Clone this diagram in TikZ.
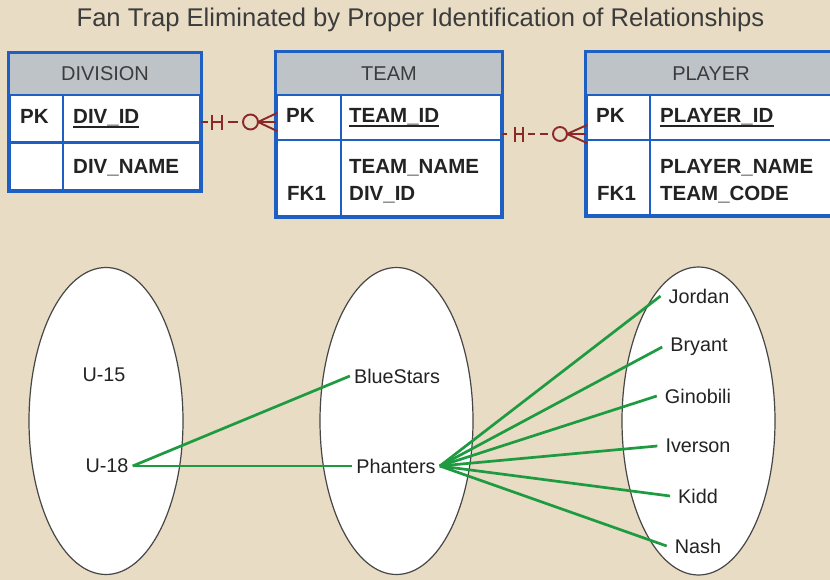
\documentclass[tikz,border=0pt]{standalone}
\usepackage{fontspec}
\setmainfont{Liberation Sans}
\usetikzlibrary{shapes.geometric}
\definecolor{bg}{RGB}{232,220,196}
\definecolor{hdr}{RGB}{190,195,199}
\definecolor{hdrtxt}{RGB}{60,60,60}
\definecolor{tblue}{RGB}{30,95,195}
\definecolor{rel}{RGB}{140,40,40}
\definecolor{grn}{RGB}{30,155,65}
\definecolor{txt}{RGB}{35,35,35}
\definecolor{ellline}{RGB}{70,70,70}
\begin{document}
\begin{tikzpicture}[x=1pt,y=-1pt,
  cell/.style={font=\fontsize{20.5}{24}\selectfont\bfseries, text=txt, anchor=base west, inner sep=0pt},
  hdrtext/.style={font=\fontsize{20}{24}\selectfont, text=hdrtxt, anchor=base, inner sep=0pt},
  tline/.style={draw=tblue, line width=2.8pt},
  tbl/.style={draw=tblue, line width=2.8pt, fill=white, rectangle, inner sep=0pt},
  ell/.style={ellipse, draw=ellline, line width=1.2pt, fill=white, inner sep=0pt},
  nm/.style={font=\fontsize{19.8}{24}\selectfont, text=txt, inner sep=4pt},
  pl/.style={nm, inner xsep=8pt},
  conn/.style={draw=grn, line width=2.7pt},
  relline/.style={draw=rel, line width=1.9pt}
]
\fill[bg] (0,0) rectangle (830,580);
\useasboundingbox (0,0) rectangle (830,580);

% title
\node[font=\fontsize{25.6}{30}\selectfont, text=hdrtxt, anchor=base, inner sep=0pt] (title) at (420.5,27) {Fan Trap Eliminated by Proper Identification of Relationships};

% DIVISION table
\node[tbl, minimum width=190pt, minimum height=136pt] (div) at (105,122) {};
\fill[hdr] (div.north west) rectangle (200,95);
\draw[tline] (div.north west) rectangle (div.south east);
\draw[tline] (10,95) -- (200,95);
\draw[tline] (10,142.5) -- (200,142.5);
\draw[tline] (63,95) -- (63,190);
\node[hdrtext] (divh) at (105,81) {DIVISION};
\node[cell] (divpk) at (20,124) {PK};
\node[cell] (divid) at (73,124) {DIV\_ID};
\draw[draw=txt, line width=1.2pt] ([yshift=-3pt]divid.base west) -- ([yshift=-3pt]divid.base east);
\node[cell] (divname) at (73,174) {DIV\_NAME};

% TEAM table
\node[tbl, minimum width=224pt, minimum height=163pt] (team) at (389,134.5) {};
\fill[hdr] (team.north west) rectangle (501,95);
\draw[tline] (team.north west) rectangle (team.south east);
\draw[tline] (277,95) -- (501,95);
\draw[tline] (277,140) -- (501,140);
\draw[tline] (341,95) -- (341,216);
\node[hdrtext] (teamh) at (389,81) {TEAM};
\node[cell] (teampk) at (286,123) {PK};
\node[cell] (teamid) at (349,123) {TEAM\_ID};
\draw[draw=txt, line width=1.2pt] ([yshift=-3pt]teamid.base west) -- ([yshift=-3pt]teamid.base east);
\node[cell] (teamname) at (349,174) {TEAM\_NAME};
\node[cell] (teamfk) at (287,201) {FK1};
\node[cell] (teamdiv) at (349,201) {DIV\_ID};

% PLAYER table
\begin{scope}
\clip (0,0) rectangle (830,580);
\node[tbl, minimum width=248pt, minimum height=162pt] (player) at (711,134) {};
\fill[hdr] (player.north west) rectangle (835,95);
\draw[tline] (player.north west) rectangle (player.south east);
\draw[tline] (587,95) -- (835,95);
\draw[tline] (587,140) -- (835,140);
\draw[tline] (650,95) -- (650,215);
\end{scope}
\node[hdrtext] (playerh) at (711,81) {PLAYER};
\node[cell] (playerpk) at (596,123) {PK};
\node[cell] (playerid) at (660,123) {PLAYER\_ID};
\draw[draw=txt, line width=1.2pt] ([yshift=-3pt]playerid.base west) -- ([yshift=-3pt]playerid.base east);
\node[cell] (playername) at (660,174) {PLAYER\_NAME};
\node[cell] (playerfk) at (597,201) {FK1};
\node[cell] (playercode) at (660,201) {TEAM\_CODE};

% relationship DIVISION - TEAM
\coordinate (r1s) at (div.east |- 0,122);
\coordinate (r1e) at (team.west |- 0,122);
\draw[relline] (r1s) -- (208,122);
\draw[relline] (212,122) -- (222,122);
\draw[relline] (212,115) -- (212,130);
\draw[relline] (222,115) -- (222,130);
\draw[relline] (228,122) -- (238,122);
\draw[relline] (250.5,122) circle[radius=7.5pt];
\draw[relline] (258,122) -- (277,113);
\draw[relline] (258,122) -- (r1e);
\draw[relline] (258,122) -- (277,131);

% relationship TEAM - PLAYER
\coordinate (r2s) at (team.east |- 0,134);
\coordinate (r2e) at (player.west |- 0,134);
\draw[relline] (r2s) -- (507,134);
\draw[relline] (515,134) -- (523,134);
\draw[relline] (515,127) -- (515,142);
\draw[relline] (523,127) -- (523,142);
\draw[relline] (528,134) -- (535,134);
\draw[relline] (540,134) -- (548,134);
\draw[relline] (560,134) circle[radius=7pt];
\draw[relline] (567,134) -- (587,125);
\draw[relline] (567,134) -- (r2e);
\draw[relline] (567,134) -- (587,143);

% ellipses
\node[ell, minimum width=154pt, minimum height=307pt] (E1) at (106,421) {};
\node[ell, minimum width=153pt, minimum height=307pt] (E2) at (396.5,421) {};
\node[ell, minimum width=153pt, minimum height=308pt] (E3) at (698.5,421) {};

\node[nm] (u15) at (104,375) {U-15};
\node[nm] (u18) at (107,466) {U-18};
\node[nm] (blue) at (397,376) {BlueStars};
\node[nm] (phan) at (396,466) {Phanters};
\node[pl] (jordan) at (699,296) {Jordan};
\node[pl] (bryant) at (699,347) {Bryant};
\node[pl] (ginobili) at (698,396) {Ginobili};
\node[pl] (iverson) at (698,446) {Iverson};
\node[pl] (kidd) at (698,496) {Kidd};
\node[pl] (nash) at (698,546) {Nash};

\draw[conn] (u18.east) -- (blue.west);
\draw[conn] (u18.east) -- (phan.west);
\foreach \p in {jordan,bryant,ginobili,iverson,kidd,nash}
  \draw[conn] (phan.east) -- (\p.west);
\end{tikzpicture}
\end{document}
